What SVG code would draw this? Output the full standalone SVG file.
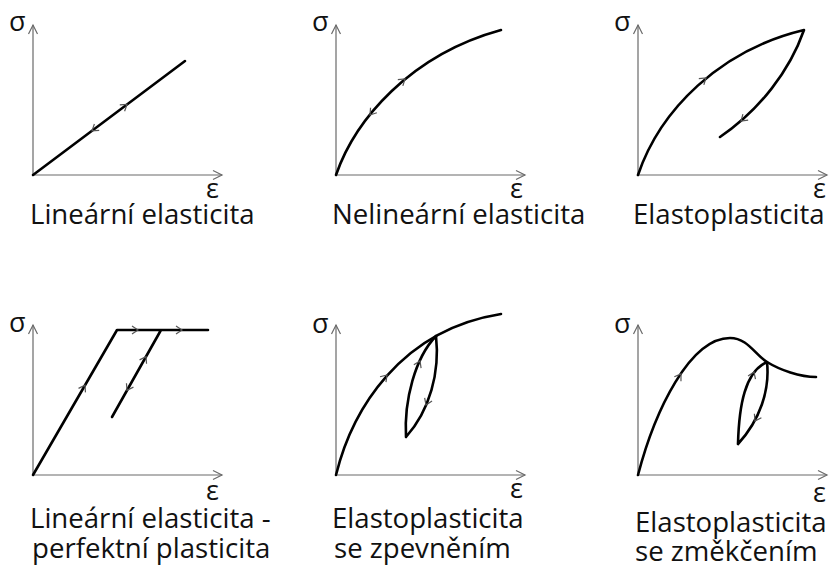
<svg xmlns="http://www.w3.org/2000/svg" xmlns:xlink="http://www.w3.org/1999/xlink" width="829" height="570" viewBox="0 0 829 570">
<style>
.ax{stroke:#6a6a6a;stroke-width:1.2;fill:none}
.cv{stroke:#000;stroke-width:2.6;fill:none;stroke-linecap:round;stroke-linejoin:round}
.ch{stroke:#555;stroke-width:1.2;fill:none}
text{font-family:"Open Sans","Noto Sans","DejaVu Sans",sans-serif;font-size:27.6px;fill:#111}
text.s{font-size:27px}
</style>
<defs>
<path id="ah" class="ax" d="M-9,-4.5 L0,0 L-9,4.5"/>
<path id="ch" class="ch" d="M-6,-4 L0,0 L-6,4"/>
</defs>
<rect width="829" height="570" fill="#fff"/>

<g id="p1">
<path class="ax" d="M33,175 V25 M33,175 H222"/>
<use xlink:href="#ah" transform="translate(33,25) rotate(-90)"/>
<use xlink:href="#ah" transform="translate(222,175)"/>
<path class="cv" d="M33,175 L185,61"/>
<use xlink:href="#ch" transform="translate(127,104.5) rotate(-36.9)"/>
<use xlink:href="#ch" transform="translate(92,130.8) rotate(143.1)"/>
<text class="s" x="9" y="31">σ</text>
<text class="s" x="206" y="198">ε</text>
<text x="30" y="224">Lineární elasticita</text>
</g>

<g id="p2">
<path class="ax" d="M336,175 V25 M336,175 H525"/>
<use xlink:href="#ah" transform="translate(336,25) rotate(-90)"/>
<use xlink:href="#ah" transform="translate(525,175)"/>
<path class="cv" d="M336,175 C355,120 410,55 501,30"/>
<use xlink:href="#ch" transform="translate(405,79) rotate(-39)"/>
<use xlink:href="#ch" transform="translate(370,115) rotate(128)"/>
<text class="s" x="312" y="31">σ</text>
<text class="s" x="510" y="198">ε</text>
<text x="332" y="224">Nelineární elasticita</text>
</g>

<g id="p3">
<path class="ax" d="M638,175 V25 M638,175 H827"/>
<use xlink:href="#ah" transform="translate(638,25) rotate(-90)"/>
<use xlink:href="#ah" transform="translate(827,175)"/>
<path class="cv" d="M638,175 C660,110 720,50 804,30 C790,70 760,110 720,137"/>
<use xlink:href="#ch" transform="translate(706,78) rotate(-39)"/>
<use xlink:href="#ch" transform="translate(741,121) rotate(139)"/>
<text class="s" x="614" y="31">σ</text>
<text class="s" x="813" y="198">ε</text>
<text x="633" y="224">Elastoplasticita</text>
</g>

<g id="p4">
<path class="ax" d="M33,475 V325 M33,475 H222"/>
<use xlink:href="#ah" transform="translate(33,325) rotate(-90)"/>
<use xlink:href="#ah" transform="translate(222,475)"/>
<path class="cv" d="M33,475 L117,330 H208 M161,330 L112,417"/>
<use xlink:href="#ch" transform="translate(85,385.2) rotate(-59.9)"/>
<use xlink:href="#ch" transform="translate(138,330)"/>
<use xlink:href="#ch" transform="translate(182,330)"/>
<use xlink:href="#ch" transform="translate(146,356.6) rotate(-60.6)"/>
<use xlink:href="#ch" transform="translate(127,390.4) rotate(119.4)"/>
<text class="s" x="9" y="332">σ</text>
<text class="s" x="206" y="500">ε</text>
<text x="30" y="528">Lineární elasticita -</text>
<text x="32" y="558">perfektní plasticita</text>
</g>

<g id="p5">
<path class="ax" d="M336,475 V325 M336,475 H525"/>
<use xlink:href="#ah" transform="translate(336,325) rotate(-90)"/>
<use xlink:href="#ah" transform="translate(525,475)"/>
<path class="cv" d="M336,475 C352,410 400,330 501,314"/>
<path class="cv" d="M406,437 C404,400 415,358 436,336 C440,372 430,410 406,437"/>
<use xlink:href="#ch" transform="translate(387,375) rotate(-48)"/>
<use xlink:href="#ch" transform="translate(420,361) rotate(-65)"/>
<use xlink:href="#ch" transform="translate(426,405) rotate(113)"/>
<text class="s" x="312" y="333">σ</text>
<text class="s" x="510" y="498">ε</text>
<text x="332" y="528">Elastoplasticita</text>
<text x="334" y="558">se zpevněním</text>
</g>

<g id="p6">
<path class="ax" d="M638,475 V325 M638,475 H827"/>
<use xlink:href="#ah" transform="translate(638,325) rotate(-90)"/>
<use xlink:href="#ah" transform="translate(827,475)"/>
<path class="cv" d="M638,475 C655,410 690,338 730,338 C748,338 755,355 767,362 C780,370 800,377 816,377"/>
<path class="cv" d="M738,444 C739,405 745,372 767,362 C770,390 760,420 738,444"/>
<use xlink:href="#ch" transform="translate(681,374) rotate(-56)"/>
<use xlink:href="#ch" transform="translate(754,372) rotate(-68)"/>
<use xlink:href="#ch" transform="translate(755,421) rotate(118.7)"/>
<text class="s" x="614" y="333">σ</text>
<text class="s" x="813" y="502">ε</text>
<text x="635" y="532">Elastoplasticita</text>
<text x="635" y="561">se změkčením</text>
</g>
</svg>
